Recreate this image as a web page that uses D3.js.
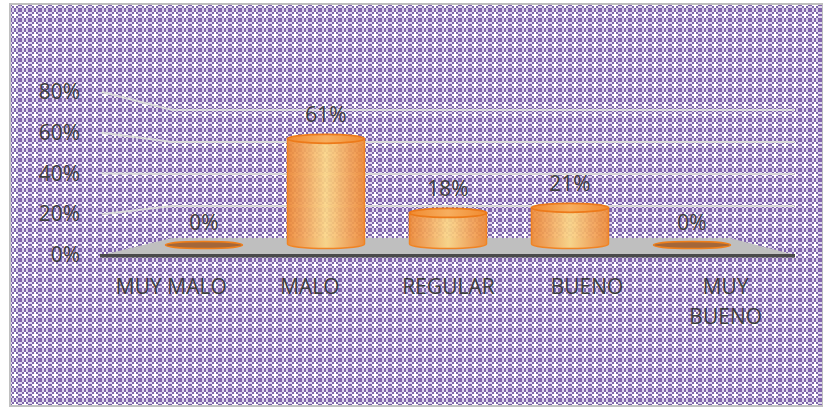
<!DOCTYPE html>
<html><head><meta charset="utf-8">
<script src="https://cdn.jsdelivr.net/npm/d3@7/dist/d3.min.js"></script>
<style>html,body{margin:0;padding:0;background:#fff;}svg{display:block;}</style>
</head><body>
<script>
const categories = ["MUY MALO", "MALO", "REGULAR", "BUENO", "MUY BUENO"];
const values = [0, 61, 18, 21, 0];
const valueLabels = ["0%", "61%", "18%", "21%", "0%"];
const yTicks = [0, 20, 40, 60, 80];

const W = 823, H = 408;
const svg = d3.select("body").append("svg").attr("width", W).attr("height", H);
const defs = svg.append("defs");

// background pattern
const pat = defs.append("pattern").attr("id", "bgpat").attr("patternUnits", "userSpaceOnUse")
  .attr("width", 10).attr("height", 10);
pat.append("rect").attr("width", 10).attr("height", 10).attr("fill", "#DDD5EB");
for (let i = 0; i < 5; i++) for (let j = 0; j < 5; j++) {
  if ((i + j) % 2 === 0) pat.append("rect").attr("x", i * 2).attr("y", j * 2).attr("width", 2).attr("height", 2).attr("fill", "#8166AC");
}
pat.append("rect").attr("x", 4).attr("y", 2).attr("width", 2).attr("height", 6).attr("fill", "#fff");
pat.append("rect").attr("x", 2).attr("y", 4).attr("width", 6).attr("height", 2).attr("fill", "#fff");

// cylinder gradient
const g1 = defs.append("linearGradient").attr("id", "cyl").attr("x1", "0").attr("x2", "1").attr("y1", "0").attr("y2", "0");
[[0, "#EE8A36"], [0.2, "#F3A458"], [0.5, "#FBD586"], [0.8, "#F3A458"], [1, "#EE8A36"]]
  .forEach(([o, c]) => g1.append("stop").attr("offset", o).attr("stop-color", c));
const g2 = defs.append("linearGradient").attr("id", "cyltop").attr("x1", "0").attr("x2", "1");
[[0, "#F08A30"], [0.5, "#F7AE5E"], [1, "#F08A30"]]
  .forEach(([o, c]) => g2.append("stop").attr("offset", o).attr("stop-color", c));

svg.append("rect").attr("x", 10).attr("y", 4).attr("width", W - 10).attr("height", 402)
  .attr("fill", "url(#bgpat)").attr("stroke", "#C0C0C0").attr("stroke-width", 2);

// scales
const yFront = d3.scaleLinear().domain([0, 80]).range([255, 92]);
const yBack = d3.scaleLinear().domain([0, 80]).range([238, 110]);
const yMid = d3.scaleLinear().domain([0, 80]).range([244, 106]);
const xFront = d3.scaleBand().domain(categories).range([102, 795]);
const xMid = d3.scalePoint().domain(categories).range([204, 692]);
const xWallL = 102, xWallB = 172, xRight = 795;
const cylW = 77, ry = 4.5;
const FONT = "Open Sans", FS = 21;

// gridlines (side wall + back wall)
yTicks.filter(v => v > 0).forEach(v => {
  svg.append("path")
    .attr("d", d3.line()([[xWallL, yFront(v)], [xWallB, yBack(v)], [xRight, yBack(v)]]))
    .attr("fill", "none").attr("stroke", "#D9D9D9").attr("stroke-width", 2.2);
});

// floor
svg.append("path")
  .attr("d", d3.line()([[xWallL, yFront(0)], [xWallB, yBack(0)], [730, yBack(0)], [xRight, yFront(0)]]) + "Z")
  .attr("fill", "#BFBFBF");
svg.append("rect").attr("x", 100).attr("y", yFront(0) - 1).attr("width", xRight - 100).attr("height", 3.5).attr("fill", "#4A4A4A");

// y axis
const yAxis = svg.append("g").attr("transform", `translate(${xWallL},0)`)
  .call(d3.axisLeft(yFront).tickValues(yTicks).tickSize(0).tickPadding(22).tickFormat(d => d + "%"));
yAxis.select(".domain").remove();
yAxis.selectAll("text").attr("font-family", FONT).attr("font-size", FS).attr("fill", "#404040");

// cylinders
const bars = svg.append("g").selectAll("g").data(categories).join("g");
bars.each(function (c, i) {
  const g = d3.select(this);
  const cx = xMid(c), v = values[i];
  const yb = yMid(0), yt = yMid(v);
  if (v === 0) {
    g.append("ellipse").attr("cx", cx).attr("cy", yb + 1).attr("rx", cylW / 2).attr("ry", 3.5)
      .attr("fill", "#A3673A").attr("stroke", "#F07F1A").attr("stroke-width", 1.5);
  } else {
    g.append("path")
      .attr("d", `M${cx - cylW / 2},${yt} L${cx - cylW / 2},${yb} A${cylW / 2},${ry} 0 0 0 ${cx + cylW / 2},${yb} L${cx + cylW / 2},${yt} Z`)
      .attr("fill", "url(#cyl)").attr("fill-opacity", 0.92).attr("stroke", "#F08424").attr("stroke-width", 1.5);
    g.append("ellipse").attr("cx", cx).attr("cy", yt).attr("rx", cylW / 2).attr("ry", ry)
      .attr("fill", "url(#cyltop)").attr("stroke", "#EC7A1A").attr("stroke-width", 1.8);
  }
  g.append("text").attr("x", cx).attr("y", yt - (v === 0 ? 14 : 17))
    .attr("text-anchor", "middle").attr("font-family", FONT).attr("font-size", FS)
    .attr("fill", "#404040").text(valueLabels[i]);
});

// category labels
const catG = svg.append("g");
categories.forEach((c, i) => {
  const cx = xFront(c) + xFront.bandwidth() / 2;
  const lines = c === "MUY BUENO" ? ["MUY", "BUENO"] : [c];
  lines.forEach((t, k) => {
    catG.append("text").attr("x", cx).attr("y", 294 + k * 30).attr("text-anchor", "middle")
      .attr("font-family", FONT).attr("font-size", FS).attr("fill", "#404040").text(t);
  });
});
</script>
</body></html>
